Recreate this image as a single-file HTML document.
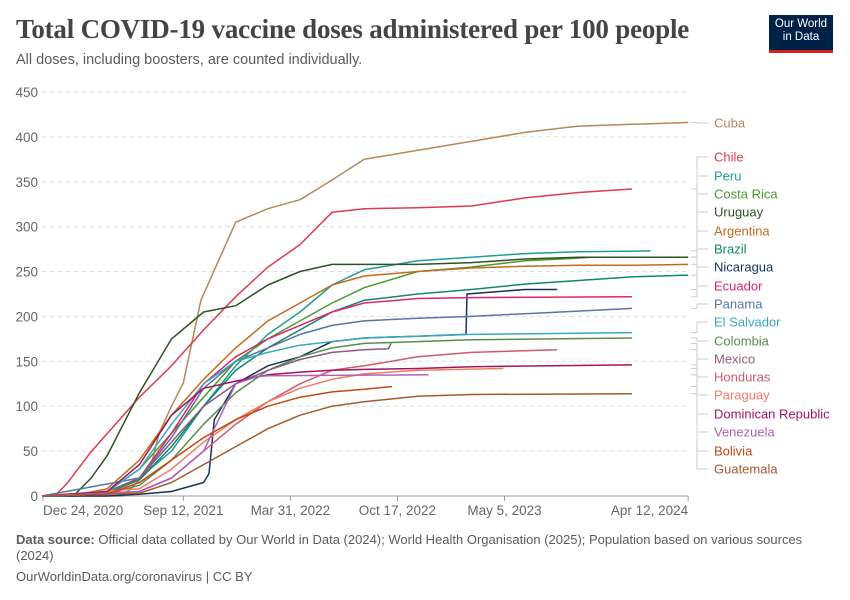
<!DOCTYPE html>
<html><head><meta charset="utf-8">
<style>
body{margin:0;background:#fff;font-family:"Liberation Sans",sans-serif;}
#wrap{position:relative;width:850px;height:600px;overflow:hidden;}
.title{position:absolute;left:16px;top:14px;font-family:"Liberation Serif",serif;font-weight:bold;font-size:27px;color:#444;letter-spacing:-0.2px}
.sub{position:absolute;left:16px;top:52px;font-size:14.5px;color:#5b5b5b}
.logo{position:absolute;left:769px;top:15px;width:64px;height:38px;background:#002147;color:#fff;font-size:11.5px;line-height:13px;text-align:center;padding-top:3px;box-sizing:border-box;border-bottom:3px solid #ce261e}
.foot{position:absolute;left:16px;top:532px;width:800px;font-size:13px;color:#5b5b5b;line-height:16px}
.url{position:absolute;left:16px;top:569px;font-size:13px;color:#5b5b5b}
</style></head><body>
<div id="wrap">
<div class="title">Total COVID-19 vaccine doses administered per 100 people</div>
<div class="sub">All doses, including boosters, are counted individually.</div>
<div class="logo">Our World<br>in Data</div>
<svg id="chart" width="850" height="600" style="position:absolute;left:0;top:0"></svg>
<div class="foot"><b>Data source:</b> Official data collated by Our World in Data (2024); World Health Organisation (2025); Population based on various sources (2024)</div>
<div class="url">OurWorldinData.org/coronavirus | CC BY</div>
</div>
<script>
const yTicks=[0,50,100,150,200,250,300,350,400,450];
const xTickDays=[0,262,462,662,862,1205];
const xTickLabels=["Dec 24, 2020","Sep 12, 2021","Mar 31, 2022","Oct 17, 2022","May 5, 2023","Apr 12, 2024"];
const names=["Cuba","Chile","Peru","Costa Rica","Uruguay","Argentina","Brazil","Nicaragua","Ecuador","Panama","El Salvador","Colombia","Mexico","Honduras","Paraguay","Dominican Republic","Venezuela","Bolivia","Guatemala"];
const colors=["#b5895b","#e03a4f","#1f9e96","#4c9a2a","#2e5224","#c36a1e","#12876c","#17325f","#e0246e","#5a74a8","#38aabd","#5b8e4a","#8f5a7c","#d15a6e","#ee7d66","#a3145c","#b060b8","#c04a10","#a35b2e"];
const cubaDays=[-40,150,200,217,240,262,295,360,420,480,540,600,700,800,900,1000,1100,1205];
const cubaVals=[0,0,30,70,100,126,218,305,320,330,352,375,385,395,405,412,414,416];
const chileDays=[-40,25,45,88,125,180,240,300,360,420,480,540,600,700,800,900,1000,1100];
const chileVals=[0,2,14,48,73,110,145,185,222,255,280,316,320,321,323,332,338,342];
const peruDays=[-40,60,120,180,240,300,360,420,480,540,600,700,800,900,1000,1135];
const peruVals=[0,1,5,20,50,100,145,180,205,235,252,262,266,270,272,273];
const costaDays=[-40,60,120,180,240,300,360,420,480,540,600,700,800,900,1000,1022];
const costaVals=[0,1,5,30,70,110,150,175,195,215,232,250,255,262,265,266];
const uruguayDays=[-40,60,90,120,180,240,300,360,420,480,540,600,700,800,900,1000,1205];
const uruguayVals=[0,2,20,45,115,175,205,212,235,250,258,258,258,260,264,266,266];
const argDays=[-40,60,120,180,240,300,360,420,480,540,600,700,800,900,1000,1100,1205];
const argVals=[0,1,8,40,90,130,165,195,215,235,245,250,254,256,257,257,258];
const brazilDays=[-40,60,120,180,240,300,360,420,480,540,600,700,800,900,1000,1100,1205];
const brazilVals=[0,0,3,18,55,100,140,165,185,205,218,225,230,236,240,244,246];
const nicDays=[-40,120,180,240,300,310,320,360,420,480,540,600,700,790,792,900,960];
const nicVals=[0,0,2,5,15,25,85,125,145,155,172,176,178,180,225,230,230];
const ecuDays=[-40,120,180,240,300,360,420,480,540,600,700,800,1100];
const ecuVals=[0,3,20,70,125,155,175,190,205,215,220,221,222];
const panDays=[-40,180,240,300,360,420,480,540,600,700,800,900,1000,1100];
const panVals=[0,20,65,120,150,165,180,190,195,198,200,203,206,209];
const salDays=[-40,120,180,240,300,360,420,480,540,600,700,800,1100];
const salVals=[0,5,30,80,125,150,160,168,172,176,178,180,182];
const colDays=[-40,120,180,240,300,360,420,480,540,600,700,800,1100];
const colVals=[0,2,12,40,80,115,140,155,165,170,172,174,176];
const mexDays=[-40,120,180,240,300,360,420,480,540,600,645,650];
const mexVals=[0,3,20,60,100,125,140,152,160,163,164,170];
const honDays=[-40,180,240,300,360,420,480,540,600,700,800,960];
const honVals=[0,5,20,50,80,105,125,140,145,155,160,163];
const parDays=[-40,180,240,300,360,420,480,540,600,700,860];
const parVals=[0,8,30,60,85,105,120,130,136,140,142];
const domDays=[-40,120,180,240,300,360,420,480,540,600,700,800,1100];
const domVals=[0,5,35,90,120,128,135,138,140,141,142,144,146];
const venDays=[-40,180,240,300,340,360,400,420,720];
const venVals=[0,5,20,50,100,125,133,134,135];
const bolDays=[-40,120,180,240,300,360,420,480,540,600,652];
const bolVals=[0,2,15,40,65,85,100,110,116,119,122];
const guaDays=[-40,180,240,300,360,420,480,540,600,700,800,1100];
const guaVals=[0,3,15,35,55,75,90,100,105,111,113,114];
const allDays=[cubaDays,chileDays,peruDays,costaDays,uruguayDays,argDays,brazilDays,nicDays,ecuDays,panDays,salDays,colDays,mexDays,honDays,parDays,domDays,venDays,bolDays,guaDays];
const allVals=[cubaVals,chileVals,peruVals,costaVals,uruguayVals,argVals,brazilVals,nicVals,ecuVals,panVals,salVals,colVals,mexVals,honVals,parVals,domVals,venVals,bolVals,guaVals];
const labelY=[123,157,176,194,212,231,249,267,286,304,322,341,359,377,395,414,432,451,469];

const NS="http://www.w3.org/2000/svg";
const svg=document.getElementById('chart');
const X0=43,PXD=0.5354,Y0=496,PXV=0.8978,XMIN=42,XMAX=688;
function xs(d){return Math.max(XMIN,X0+d*PXD);}
function ys(v){return Y0-v*PXV;}
function mk(t,a){const e=document.createElementNS(NS,t);for(const k in a)e.setAttribute(k,a[k]);svg.appendChild(e);return e;}
yTicks.forEach(v=>{
  if(v>0){const g=mk('line',{x1:XMIN,x2:XMAX,y1:ys(v),y2:ys(v),stroke:'#ddd','stroke-dasharray':'4,4'});
  
  }
  const t=mk('text',{x:38,y:ys(v)+5,'text-anchor':'end','font-size':13.5,fill:'#666','font-family':'Liberation Sans,sans-serif'});
  t.textContent=v;
  
  
});
const ax=mk('line',{x1:XMIN,x2:XMAX,y1:Y0,y2:Y0,stroke:'#999'});


xTickDays.forEach((d,i)=>{
  const x=xs(d);
  const tk=mk('line',{x1:x,x2:x,y1:Y0,y2:Y0+5,stroke:'#999'});
  
  
  const anchor=i==0?'start':(i==xTickDays.length-1?'end':'middle');
  const t=mk('text',{x:x,y:Y0+19,'text-anchor':anchor,'font-size':13.5,fill:'#666','font-family':'Liberation Sans,sans-serif'});
  t.textContent=xTickLabels[i];
  
  
});
names.forEach((n,i)=>{
  const D=allDays[i],V=allVals[i];
  const pts=D.map((d,j)=>xs(d).toFixed(1)+','+ys(V[j]).toFixed(1)).join(' ');
  const pl=mk('polyline',{points:pts,fill:'none',stroke:colors[i],'stroke-width':1.5,'stroke-linejoin':'round'});
  
  
  const ey=ys(V[V.length-1]),ly=labelY[i];
  const c=mk('polyline',{points:`691,${ey} 697,${ey} 697,${ly} 708,${ly}`,fill:'none',stroke:'#ccc','stroke-width':1});
  
  
  const t=mk('text',{x:714,y:ly+4.5,'font-size':13,fill:colors[i],'font-family':'Liberation Sans,sans-serif'});
  t.textContent=n;
  
  
});
</script>
</body></html>
